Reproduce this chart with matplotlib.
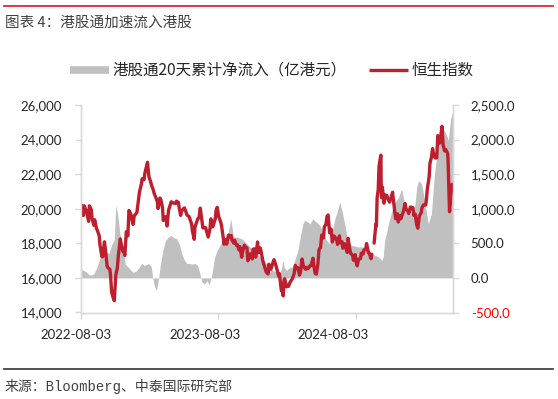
import numpy as np
import pandas as pd
import matplotlib
matplotlib.use("Agg")
import matplotlib.pyplot as plt
from matplotlib.lines import Line2D
from matplotlib.ticker import FuncFormatter
import matplotlib.transforms as mtransforms

# ---------------- data ----------------
hsi_dates = [
    "2022-08-03", "2022-08-05", "2022-08-10", "2022-08-12", "2022-08-17", "2022-08-19", "2022-08-24", "2022-08-26",
    "2022-08-31", "2022-09-02", "2022-09-07", "2022-09-09", "2022-09-14", "2022-09-16", "2022-09-21", "2022-09-23",
    "2022-09-28", "2022-09-30", "2022-10-05", "2022-10-07", "2022-10-12", "2022-10-14", "2022-10-19", "2022-10-21",
    "2022-10-24", "2022-10-28", "2022-10-31", "2022-11-04", "2022-11-08", "2022-11-11", "2022-11-16", "2022-11-18",
    "2022-11-23", "2022-11-25", "2022-11-28", "2022-12-02", "2022-12-06", "2022-12-09", "2022-12-14", "2022-12-16",
    "2022-12-20", "2022-12-23", "2022-12-30",
    "2023-01-06", "2023-01-11", "2023-01-13", "2023-01-18", "2023-01-20", "2023-01-27", "2023-01-31", "2023-02-03",
    "2023-02-08", "2023-02-10", "2023-02-15", "2023-02-17", "2023-02-22", "2023-02-24", "2023-03-01", "2023-03-03",
    "2023-03-08", "2023-03-10", "2023-03-15", "2023-03-17", "2023-03-20", "2023-03-24", "2023-03-31", "2023-04-06",
    "2023-04-12", "2023-04-14", "2023-04-19", "2023-04-21", "2023-04-25", "2023-04-28", "2023-05-05", "2023-05-10",
    "2023-05-12", "2023-05-17", "2023-05-19", "2023-05-24", "2023-05-26", "2023-05-31", "2023-06-02", "2023-06-09",
    "2023-06-13", "2023-06-16", "2023-06-21", "2023-06-23", "2023-06-30", "2023-07-07", "2023-07-12", "2023-07-14",
    "2023-07-19", "2023-07-21", "2023-07-26", "2023-07-28", "2023-07-31", "2023-08-04", "2023-08-09", "2023-08-11",
    "2023-08-16", "2023-08-18", "2023-08-23", "2023-08-25", "2023-08-30", "2023-09-01", "2023-09-06", "2023-09-08",
    "2023-09-13", "2023-09-15", "2023-09-20", "2023-09-22", "2023-09-27", "2023-09-29", "2023-10-04", "2023-10-06",
    "2023-10-11", "2023-10-13", "2023-10-18", "2023-10-20", "2023-10-24", "2023-10-27", "2023-11-01", "2023-11-03",
    "2023-11-07", "2023-11-10", "2023-11-15", "2023-11-17", "2023-11-22", "2023-11-24", "2023-11-29", "2023-12-01",
    "2023-12-06", "2023-12-08", "2023-12-13", "2023-12-15", "2023-12-20", "2023-12-22", "2023-12-28", "2023-12-29",
    "2024-01-05", "2024-01-10", "2024-01-12", "2024-01-17", "2024-01-19", "2024-01-22", "2024-01-24", "2024-01-26",
    "2024-01-31", "2024-02-02", "2024-02-05", "2024-02-09", "2024-02-15", "2024-02-20", "2024-02-23", "2024-02-28",
    "2024-03-01", "2024-03-05", "2024-03-08", "2024-03-12", "2024-03-15", "2024-03-20", "2024-03-22", "2024-03-26",
    "2024-03-28", "2024-04-03", "2024-04-05", "2024-04-10", "2024-04-12", "2024-04-16", "2024-04-19", "2024-04-23",
    "2024-04-26", "2024-04-30", "2024-05-03", "2024-05-08", "2024-05-10", "2024-05-14", "2024-05-17", "2024-05-20",
    "2024-05-24", "2024-05-28", "2024-05-31", "2024-06-05", "2024-06-07", "2024-06-12", "2024-06-14", "2024-06-19",
    "2024-06-21", "2024-06-26", "2024-06-28", "2024-07-03", "2024-07-05", "2024-07-10", "2024-07-12", "2024-07-16",
    "2024-07-19", "2024-07-24", "2024-07-26", "2024-07-31", "2024-08-02", "2024-08-05", "2024-08-09", "2024-08-14",
    "2024-08-16", "2024-08-21", "2024-08-23", "2024-08-28", "2024-08-30", "2024-09-04", "2024-09-06", "2024-09-11",
    "2024-09-13", "2024-09-17", "2024-09-19", "2024-09-20", "2024-09-24", "2024-09-25", "2024-09-26", "2024-09-27",
    "2024-09-30", "2024-10-02", "2024-10-04", "2024-10-07", "2024-10-08", "2024-10-09", "2024-10-11", "2024-10-15",
    "2024-10-18", "2024-10-23", "2024-10-25", "2024-10-30", "2024-11-01", "2024-11-07", "2024-11-08", "2024-11-13",
    "2024-11-15", "2024-11-20", "2024-11-22", "2024-11-27", "2024-11-29", "2024-12-04", "2024-12-06", "2024-12-10",
    "2024-12-13", "2024-12-18", "2024-12-20", "2024-12-24", "2024-12-27", "2024-12-31",
    "2025-01-02", "2025-01-06", "2025-01-10", "2025-01-13", "2025-01-17", "2025-01-22", "2025-01-24", "2025-01-28",
    "2025-02-03", "2025-02-05", "2025-02-07", "2025-02-12", "2025-02-14", "2025-02-18", "2025-02-21", "2025-02-25",
    "2025-02-28", "2025-03-04", "2025-03-07", "2025-03-11", "2025-03-14", "2025-03-18", "2025-03-21", "2025-03-25",
    "2025-03-28", "2025-04-02", "2025-04-03", "2025-04-07", "2025-04-08", "2025-04-09", "2025-04-10", "2025-04-11",
    "2025-04-14", "2025-04-16", "2025-04-17",
]
hsi_values = [
    19767, 20201, 19610, 20175, 19922, 19773, 19268, 20170,
    19954, 19452, 19044, 19362, 18848, 18762, 18445, 17933,
    17250, 17223, 18088, 17740, 16701, 16588, 16511, 16211,
    15180, 14863, 14687, 16161, 16557, 17326, 18256, 17993,
    17524, 17573, 17297, 18675, 18442, 19901, 19674, 19451,
    19094, 19593, 19781,
    20991, 21436, 21738, 21678, 22045, 22689, 21842, 21660,
    21283, 21190, 20812, 20719, 20423, 20010, 20619, 20567,
    20051, 19320, 19539, 19518, 19000, 19916, 20400, 20331,
    20309, 20439, 20368, 20076, 19617, 19895, 20049, 19762,
    19628, 19560, 19451, 19116, 18746, 18234, 18950, 19390,
    19521, 20040, 19218, 18890, 18916, 18365, 18860, 19413,
    18952, 19075, 19434, 19917, 20079, 19538, 19246, 19075,
    18329, 17951, 18212, 17956, 18482, 18382, 18450, 18202,
    18009, 18182, 17885, 17933, 17611, 17809, 17195, 17485,
    17893, 17813, 17732, 16995, 17173, 17399, 17101, 17664,
    17671, 17203, 18080, 17454, 17734, 17560, 16993, 16830,
    16463, 16334, 16228, 16792, 16506, 16631, 17043, 17047,
    16535, 16098, 16244, 15277, 15308, 14961, 15899, 15952,
    15485, 15533, 15510, 15746, 15944, 16248, 16726, 16536,
    16589, 16163, 16353, 17093, 16720, 16543, 16499, 16618,
    16541, 16725, 16724, 17139, 16721, 16248, 16224, 16828,
    17651, 17763, 18476, 18314, 18964, 19073, 19553, 19636,
    18609, 18821, 18080, 18425, 18367, 18176, 17942, 18431,
    18028, 18090, 17719, 17979, 17799, 17472, 18293, 17727,
    17417, 17311, 17022, 17344, 16946, 16699, 17090, 17113,
    17430, 17391, 17612, 17692, 17989, 17457, 17444, 17108,
    17369, np.nan, 18013, 18258, 19129, 19000, 19924, 20632,
    21134, 22443, 22737, 23100, 20927, 20637, 21252, 20318,
    20804, 20760, 20590, 20380, 20506, 20954, 20728, 19823,
    19426, 19705, 19230, 19604, 19424, 19742, 19866, 20311,
    19971, 19865, 19720, 20098, 20090, 20060,
    19623, 19688, 19064, 18874, 19584, 19778, 20066, 20225,
    20217, 20597, 21133, 21857, 22620, 22977, 23478, 23034,
    22941, 22941, 24231, 23782, 23959, 24771, 23690, 23344,
    23426, 23202, 22849, 19828, 20127, 20264, 20681, 20915,
    21417, 21056, 21395,
]

flow_dates = [
    "2022-08-03", "2022-08-10", "2022-08-17", "2022-08-24", "2022-08-31", "2022-09-07", "2022-09-14", "2022-09-21",
    "2022-09-28", "2022-10-03", "2022-10-10", "2022-10-17", "2022-10-24", "2022-10-31", "2022-11-04", "2022-11-09",
    "2022-11-15", "2022-11-22", "2022-11-29", "2022-12-06", "2022-12-13", "2022-12-20", "2022-12-28",
    "2023-01-05", "2023-01-12", "2023-01-19", "2023-01-30", "2023-02-06", "2023-02-10", "2023-02-15", "2023-02-20",
    "2023-02-24", "2023-03-02", "2023-03-09", "2023-03-16", "2023-03-23", "2023-03-30", "2023-04-07", "2023-04-14",
    "2023-04-21", "2023-04-28", "2023-05-05", "2023-05-12", "2023-05-19", "2023-05-26", "2023-06-02", "2023-06-09",
    "2023-06-15", "2023-06-20", "2023-06-27", "2023-07-04", "2023-07-10", "2023-07-17", "2023-07-24", "2023-07-31",
    "2023-08-10", "2023-08-17", "2023-08-28", "2023-09-05", "2023-09-12", "2023-09-21", "2023-10-06", "2023-10-20",
    "2023-10-31", "2023-11-13", "2023-11-22", "2023-11-30", "2023-12-08", "2023-12-18", "2023-12-26",
    "2024-01-05", "2024-01-13", "2024-01-18", "2024-01-21", "2024-01-25", "2024-01-31", "2024-02-08", "2024-02-16",
    "2024-02-23", "2024-03-01", "2024-03-08", "2024-03-14", "2024-03-19", "2024-03-27", "2024-04-02", "2024-04-09",
    "2024-04-16", "2024-04-23", "2024-05-01", "2024-05-08", "2024-05-16", "2024-05-24", "2024-05-30", "2024-06-06",
    "2024-06-13", "2024-06-20", "2024-06-27", "2024-07-03", "2024-07-11", "2024-07-21", "2024-07-30", "2024-08-09",
    "2024-08-17", "2024-08-25", "2024-09-02", "2024-09-12", "2024-09-20", "2024-10-01", "2024-10-09", "2024-10-13",
    "2024-10-17", "2024-10-22", "2024-10-27", "2024-11-04", "2024-11-10", "2024-11-17", "2024-11-23", "2024-12-01",
    "2024-12-09", "2024-12-16", "2024-12-22", "2024-12-28",
    "2025-01-02", "2025-01-06", "2025-01-10", "2025-01-15", "2025-01-23", "2025-01-31", "2025-02-06", "2025-02-10",
    "2025-02-18", "2025-02-26", "2025-03-04", "2025-03-09", "2025-03-11", "2025-03-17", "2025-03-24", "2025-03-31",
    "2025-04-04", "2025-04-07", "2025-04-10", "2025-04-14", "2025-04-17",
]
flow_values = [
    135, 110, 90, 50, 40, 60, 140, 250,
    420, 495, 380, 350, 480, 550, 1050, 920,
    640, 460, 200, 160, 120, 80, 100,
    150, 210, 180, 210, 160, 0, -130, -180,
    -60, 180, 400, 540, 590, 615, 580, 570,
    495, 350, 255, 207, 210, 200, 210, 180,
    62, -50, -90, -40, -100, 60, 300, 400,
    500, 543, 620, 856, 591, 590, 560, 480,
    420, 351, 303, 260, 207, 150, 110,
    80, 62, 150, 255, 150, 110, 150, 159,
    280, 400, 620, 780, 832, 808, 780, 856,
    820, 790, 736, 620, 543, 495, 650, 832,
    960, 1096, 940, 780, 543, 470, 460, 447,
    450, 440, 400, 351, 330, 303, 255, 300,
    543, 650, 784, 950, 1072, 1120, 1168, 1288,
    1072, 960, 928, 935,
    928, 1100, 1312, 1409, 1360, 1120, 900, 784,
    928, 1505, 1750, 1986, 2202, 2180, 2130, 2050,
    1986, 2150, 2300, 2380, 2450,
]

left_ticks = [14000, 16000, 18000, 20000, 22000, 24000, 26000]
right_ticks = [-500, 0, 500, 1000, 1500, 2000, 2500]
x_tick_labels = ["2022-08-03", "2023-08-03", "2024-08-03"]

title = "图表 4：港股通加速流入港股"
legend_labels = ["港股通20天累计净流入（亿港元）", "恒生指数"]
source = "来源：Bloomberg、中泰国际研究部"

# ---------------- style ----------------
RED = "#BE1E2D"
GRAY = "#C0C0C0"
AXIS = "#D9D9D9"
TXT = "#262626"
NUMFONT = ["Lato", "DejaVu Sans"]
CJK = ["Noto Sans CJK SC", "DejaVu Sans"]

W, H = 558, 399
fig = plt.figure(figsize=(W / 100, H / 100), dpi=100)

left, right, top, bottom = 80.7, 453.3, 105.0, 312.5
ax = fig.add_axes([left / W, 1 - bottom / H, (right - left) / W, (bottom - top) / H])
ax2 = ax.twinx()

hd = pd.to_datetime(hsi_dates)
fd = pd.to_datetime(flow_dates)

ax2.fill_between(fd, 0, flow_values, color=GRAY, linewidth=0)
ax.plot(hd, hsi_values, color=RED, linewidth=2.4, solid_joinstyle="round", solid_capstyle="round")

ax.set_zorder(ax2.get_zorder() + 1)
ax.patch.set_visible(False)

ax.set_xlim(hd[0], hd[-1])
ax.set_ylim(left_ticks[0], left_ticks[-1])
ax2.set_ylim(right_ticks[0], right_ticks[-1])
ax.set_yticks(left_ticks)
ax2.set_yticks(right_ticks)
ax.yaxis.set_major_formatter(FuncFormatter(lambda v, p: f"{v:,.0f}"))
ax2.yaxis.set_major_formatter(FuncFormatter(lambda v, p: f"{v:,.1f}"))

ax.set_xticks(pd.to_datetime(x_tick_labels))
ax.set_xticklabels(x_tick_labels)

for a in (ax, ax2):
    for s in a.spines.values():
        s.set_color(AXIS)
        s.set_linewidth(1.0)
    a.spines["top"].set_visible(False)
    a.tick_params(colors=AXIS, labelcolor=TXT, length=4, width=1.0, labelsize=9.5)

ax.tick_params(axis="y", pad=9.5)
ax.tick_params(axis="x", pad=8)
ax2.tick_params(axis="y", pad=8.5)

for lbl in ax.get_yticklabels() + ax2.get_yticklabels() + ax.get_xticklabels():
    lbl.set_family(NUMFONT)

ax2.get_yticklabels()[0].set_color("#FF0000")

# shift x labels like the reference
shifts = [-5, -13, -23]
for lbl, dx in zip(ax.get_xticklabels(), shifts):
    lbl.set_transform(lbl.get_transform() + mtransforms.ScaledTranslation(dx / 100, 0, fig.dpi_scale_trans))

# legend
handles = [Line2D([], [], color=GRAY, linewidth=5.5, solid_capstyle="butt"),
           Line2D([], [], color=RED, linewidth=2.4, solid_capstyle="butt")]
leg = fig.legend(handles, legend_labels, loc="center left", bbox_to_anchor=(70 / W, 1 - 70.5 / H),
                 ncol=2, frameon=False, borderpad=0, borderaxespad=0, handlelength=2.5,
                 handletextpad=0.25, columnspacing=1.4, prop={"family": CJK, "size": 11.2})
for t in leg.get_texts():
    t.set_color(TXT)

# title, rules, source
fig.add_artist(Line2D([4 / W, 553 / W], [1 - 5.7 / H] * 2, color="#E0282E", linewidth=1.3))
fig.text(5 / W, 1 - 23 / H, title, family=CJK, fontsize=10.5, color="#404040", va="center", ha="left")
fig.add_artist(Line2D([4 / W, 553 / W], [1 - 369 / H] * 2, color="#333333", linewidth=1.2))
fig.text(5 / W, 1 - 387 / H, source, family=["Liberation Mono", "Noto Sans CJK SC"], fontsize=10,
         color="#404040", va="center", ha="left")

fig.savefig("out.png", dpi=100)
